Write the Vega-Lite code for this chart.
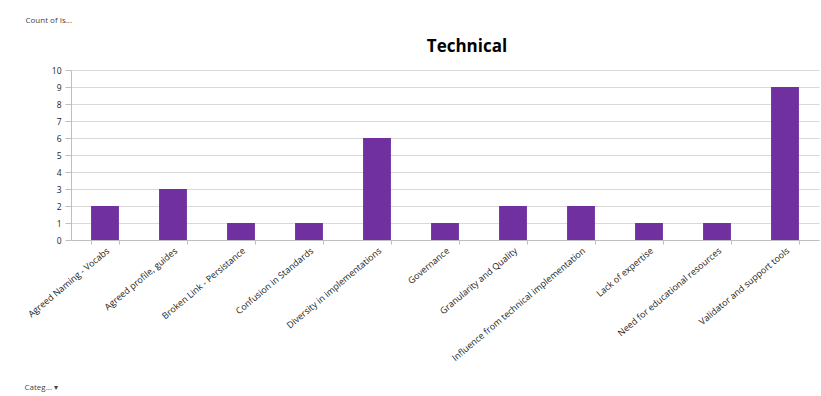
{
  "$schema": "https://vega.github.io/schema/vega-lite/v6.json",
  "autosize": {"type": "none"},
  "width": 748,
  "height": 170,
  "padding": {"left": 71, "top": 70, "right": 2, "bottom": 156},
  "background": "white",
  "title": {
    "text": "Technical",
    "font": "Open Sans",
    "fontSize": 17,
    "fontWeight": "bold",
    "color": "#000000",
    "anchor": "middle",
    "dx": 22,
    "offset": -40
  },
  "data": {
    "values": [
      {"category": "Agreed Naming - Vocabs", "count": 2},
      {"category": "Agreed profile, guides", "count": 3},
      {"category": "Broken Link - Persistance", "count": 1},
      {"category": "Confusion in Standards", "count": 1},
      {"category": "Diversity in implementations", "count": 6},
      {"category": "Governance", "count": 1},
      {"category": "Granularity and Quality", "count": 2},
      {"category": "Influence from technical implementation", "count": 2},
      {"category": "Lack of expertise", "count": 1},
      {"category": "Need for educational resources", "count": 1},
      {"category": "Validator and support tools", "count": 9}
    ]
  },
  "mark": {"type": "bar", "color": "#7030A0"},
  "encoding": {
    "x": {
      "field": "category",
      "type": "nominal",
      "sort": null,
      "scale": {"paddingInner": 0.59, "paddingOuter": 0.295},
      "axis": {
        "title": "Categ... ▾",
        "titleFont": "Open Sans",
        "titleFontSize": 8,
        "titleFontWeight": "normal",
        "titleColor": "#444444",
        "titleAngle": 0,
        "titleAlign": "left",
        "titleBaseline": "middle",
        "titleX": -47,
        "titleY": 147,
        "labelAngle": -40,
        "labelFont": "Open Sans",
        "labelFontSize": 9,
        "labelColor": "#222222",
        "labelPadding": 2,
        "tickBand": "extent",
        "tickColor": "#bfbfbf",
        "tickSize": 4,
        "domainColor": "#bfbfbf",
        "grid": false
      }
    },
    "y": {
      "field": "count",
      "type": "quantitative",
      "scale": {"domain": [0, 10]},
      "axis": {
        "title": "Count of Is...",
        "titleFont": "Open Sans",
        "titleFontSize": 8,
        "titleFontWeight": "normal",
        "titleColor": "#444444",
        "titleAngle": 0,
        "titleAlign": "left",
        "titleBaseline": "middle",
        "titleX": -46,
        "titleY": -50,
        "values": [0, 1, 2, 3, 4, 5, 6, 7, 8, 9, 10],
        "labelFont": "Open Sans",
        "labelFontSize": 8.5,
        "labelColor": "#222222",
        "labelPadding": 4,
        "tickColor": "#bfbfbf",
        "tickSize": 6,
        "domainColor": "#bfbfbf",
        "gridColor": "#d9d9d9"
      }
    }
  },
  "config": {"view": {"stroke": null}}
}
